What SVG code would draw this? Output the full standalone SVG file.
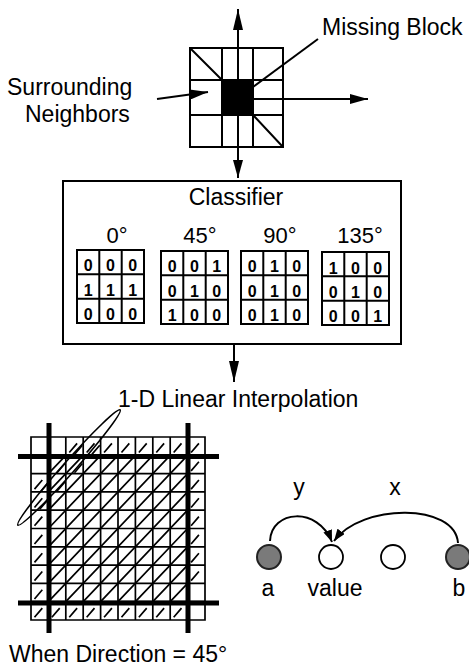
<svg xmlns="http://www.w3.org/2000/svg" width="469" height="668" viewBox="0 0 469 668">
  <style>
    .lbl { font-family: "Liberation Sans", Arial, sans-serif; font-size: 23px; fill: #000; }
    .deg { font-family: "Liberation Sans", Arial, sans-serif; font-size: 22px; fill: #000; text-anchor: middle; }
    .bit { font-family: "Liberation Sans", Arial, sans-serif; font-size: 16px; font-weight: bold; fill: #000; text-anchor: middle; }
    .ln { stroke: #000; stroke-width: 2; fill: none; }
    .grid-n { stroke: #000; stroke-width: 1.7; fill: none; vector-effect: non-scaling-stroke; }
    .hatch { stroke: #000; stroke-width: 1.7; fill: none; vector-effect: non-scaling-stroke; }
    .thick { stroke: #000; stroke-width: 5; fill: none; }
    .open { fill: #fff; stroke: #000; stroke-width: 1.8; }
    .known { fill: #7a7a7a; stroke: #222; stroke-width: 2; }
  </style>
  <defs>
    <marker id="head" viewBox="0 0 18 10" refX="18" refY="5" markerWidth="18" markerHeight="10" markerUnits="userSpaceOnUse" orient="auto-start-reverse">
      <path d="M0,0 L18,5 L0,10 Z" fill="#000"/>
    </marker>
    <marker id="headLong" viewBox="0 0 21 10" refX="21" refY="5" markerWidth="21" markerHeight="10" markerUnits="userSpaceOnUse" orient="auto-start-reverse">
      <path d="M0,0 L21,5 L0,10 Z" fill="#000"/>
    </marker>
    <marker id="headSmall" viewBox="0 0 12 9" refX="12" refY="4.5" markerWidth="12" markerHeight="9" markerUnits="userSpaceOnUse" orient="auto">
      <path d="M0,0 L12,4.5 L0,9 Z" fill="#000"/>
    </marker>
    <!-- 3x3 classifier mask frame -->
    <g id="mask3">
      <rect x="0" y="0" width="67" height="73" class="ln"/>
      <path d="M22.3,0 V73 M44.7,0 V73 M0,24.3 H67 M0,48.7 H67" class="ln"/>
    </g>
  </defs>

  <!-- neighbourhood of the missing block -->
  <g id="neighborhood">
    <rect x="190" y="48" width="93" height="99" class="ln"/>
    <path d="M222,48 V147 M253,48 V147 M190,80 H283 M190,115 H283" class="ln"/>
    <rect x="222" y="80" width="31" height="35" fill="#000"/>
    <path d="M190,48 L222,80 M253,115 L283,147" class="ln" stroke-width="2.4"/>
  </g>

  <g id="label-missing">
    <text x="322" y="35" class="lbl">Missing Block</text>
  </g>
  <g id="label-surrounding">
    <text x="7" y="95" class="lbl">Surrounding</text>
    <text x="25" y="122" class="lbl">Neighbors</text>
  </g>

  <!-- classifier with the four direction masks -->
  <g id="classifier">
    <rect x="63" y="181" width="338" height="163" class="ln"/>
    <text x="236" y="205" class="lbl" text-anchor="middle">Classifier</text>

    <text x="117" y="243" class="deg">0°</text>
    <text x="200" y="243" class="deg">45°</text>
    <text x="280" y="243" class="deg">90°</text>
    <text x="360" y="243" class="deg">135°</text>

    <g id="mask-0" transform="translate(77,250)">
      <use href="#mask3"/>
      <text x="11.2" y="21" class="bit">0</text><text x="33.5" y="21" class="bit">0</text><text x="55.8" y="21" class="bit">0</text>
      <text x="11.2" y="45.5" class="bit">1</text><text x="33.5" y="45.5" class="bit">1</text><text x="55.8" y="45.5" class="bit">1</text>
      <text x="11.2" y="70" class="bit">0</text><text x="33.5" y="70" class="bit">0</text><text x="55.8" y="70" class="bit">0</text>
    </g>
    <g id="mask-45" transform="translate(161,251)">
      <use href="#mask3"/>
      <text x="11.2" y="21" class="bit">0</text><text x="33.5" y="21" class="bit">0</text><text x="55.8" y="21" class="bit">1</text>
      <text x="11.2" y="45.5" class="bit">0</text><text x="33.5" y="45.5" class="bit">1</text><text x="55.8" y="45.5" class="bit">0</text>
      <text x="11.2" y="70" class="bit">1</text><text x="33.5" y="70" class="bit">0</text><text x="55.8" y="70" class="bit">0</text>
    </g>
    <g id="mask-90" transform="translate(241,251)">
      <use href="#mask3"/>
      <text x="11.2" y="21" class="bit">0</text><text x="33.5" y="21" class="bit">1</text><text x="55.8" y="21" class="bit">0</text>
      <text x="11.2" y="45.5" class="bit">0</text><text x="33.5" y="45.5" class="bit">1</text><text x="55.8" y="45.5" class="bit">0</text>
      <text x="11.2" y="70" class="bit">0</text><text x="33.5" y="70" class="bit">1</text><text x="55.8" y="70" class="bit">0</text>
    </g>
    <g id="mask-135" transform="translate(322,252)">
      <use href="#mask3"/>
      <text x="11.2" y="22" class="bit">1</text><text x="33.5" y="22" class="bit">0</text><text x="55.8" y="22" class="bit">0</text>
      <text x="11.2" y="45.5" class="bit">0</text><text x="33.5" y="45.5" class="bit">1</text><text x="55.8" y="45.5" class="bit">0</text>
      <text x="11.2" y="70" class="bit">0</text><text x="33.5" y="70" class="bit">0</text><text x="55.8" y="70" class="bit">1</text>
    </g>
  </g>

  <g id="label-interp">
    <text x="118" y="407" class="lbl" font-size="24">1-D Linear Interpolation</text>
  </g>

  <!-- 10x10 pixel block, 45 degree interpolation -->
  <g id="pixel-block">
    <g transform="translate(31,437) scale(17.4,18.3)">
      <path class="grid-n" d="M0,0 H10 V10 H0 Z
        M1,0 V10 M2,0 V10 M3,0 V10 M4,0 V10 M5,0 V10 M6,0 V10 M7,0 V10 M8,0 V10 M9,0 V10
        M0,1 H10 M0,2 H10 M0,3 H10 M0,4 H10 M0,5 H10 M0,6 H10 M0,7 H10 M0,8 H10 M0,9 H10"/>
      <!-- interpolation lines through the missing pixels -->
      <path class="hatch" d="M1,2 L2,1 M1,3 L3,1 M1,4 L4,1 M1,5 L5,1 M1,6 L6,1 M1,7 L7,1 M1,8 L8,1 M1,9 L9,1
        M2,9 L9,2 M3,9 L9,3 M4,9 L9,4 M5,9 L9,5 M6,9 L9,6 M7,9 L9,7 M8,9 L9,8"/>
      <!-- neighbour pixels used at the line ends -->
      <path class="hatch" d="
        M2.2,0.85 L2.65,0.35 M3.2,0.85 L3.65,0.35 M4.2,0.85 L4.65,0.35 M5.2,0.85 L5.65,0.35
        M6.2,0.85 L6.65,0.35 M7.2,0.85 L7.65,0.35 M8.2,0.85 L8.65,0.35 M9.2,0.85 L9.65,0.35
        M9.2,1.85 L9.65,1.35 M9.2,2.85 L9.65,2.35 M9.2,3.85 L9.65,3.35 M9.2,4.85 L9.65,4.35
        M9.2,5.85 L9.65,5.35 M9.2,6.85 L9.65,6.35 M9.2,7.85 L9.65,7.35
        M0.2,2.85 L0.65,2.35 M0.2,3.85 L0.65,3.35 M0.2,4.85 L0.65,4.35 M0.2,5.85 L0.65,5.35
        M0.2,6.85 L0.65,6.35 M0.2,7.85 L0.65,7.35 M0.2,8.85 L0.65,8.35
        M0.2,9.85 L0.65,9.35 M1.2,9.85 L1.65,9.35 M2.2,9.85 L2.65,9.35 M3.2,9.85 L3.65,9.35
        M4.2,9.85 L4.65,9.35 M5.2,9.85 L5.65,9.35 M6.2,9.85 L6.65,9.35 M7.2,9.85 L7.65,9.35
        M8.2,9.85 L8.65,9.35"/>
      <!-- extra strokes inside the highlighted line -->
      <path class="hatch" d="M2.5,0.95 L2.95,0.45 M3.5,0.95 L3.95,0.45 M1.5,1.95 L1.95,1.45 M2.5,1.95 L2.95,1.45
        M1.5,2.95 L1.95,2.45 M0.5,3.05 L0.95,2.55 M0.5,3.95 L0.95,3.45"/>
    </g>
    <!-- block boundary -->
    <path class="thick" d="M49,423 V633 M188,423 V633 M18,456.5 H219 M18,603 H219"/>
    <!-- highlighted interpolation line -->
    <ellipse cx="69" cy="467.5" rx="77" ry="6" transform="rotate(-48.4 69 467.5)" fill="none" stroke="#000" stroke-width="1.6"/>
  </g>

  <g id="label-direction">
    <text x="9" y="662" class="lbl" font-size="24">When Direction = 45°</text>
  </g>

  <!-- pixels on one interpolation line -->
  <g id="pixel-a">
    <circle cx="269" cy="557" r="12" class="known"/>
    <text x="268" y="596" class="lbl" text-anchor="middle">a</text>
  </g>
  <g id="pixel-value">
    <circle cx="331" cy="557" r="12" class="open"/>
    <text x="335" y="596" class="lbl" text-anchor="middle">value</text>
  </g>
  <g id="pixel-mid">
    <circle cx="393" cy="557" r="12" class="open"/>
  </g>
  <g id="pixel-b">
    <circle cx="458" cy="557" r="12" class="known"/>
    <text x="459" y="596" class="lbl" text-anchor="middle">b</text>
  </g>
  <g id="label-y"><text x="299" y="495" class="lbl" text-anchor="middle">y</text></g>
  <g id="label-x"><text x="395" y="495" class="lbl" text-anchor="middle">x</text></g>

  <g id="connectors">
    <path d="M238,178 V9" class="ln" marker-start="url(#head)" marker-end="url(#headLong)"/>
    <path d="M253,99 H368" class="ln" marker-end="url(#head)"/>
    <path d="M157,99 L208,92" class="ln" marker-end="url(#head)"/>
    <path d="M253,87 L318,39" class="ln"/>
    <path d="M234,344 V382" class="ln" marker-end="url(#headLong)"/>
    <path d="M270,541 C271,510 318,506 332,542" class="ln" marker-end="url(#headSmall)"/>
    <path d="M458,543 C455,503 362,503 334,541" class="ln" marker-end="url(#headSmall)"/>
  </g>
</svg>
